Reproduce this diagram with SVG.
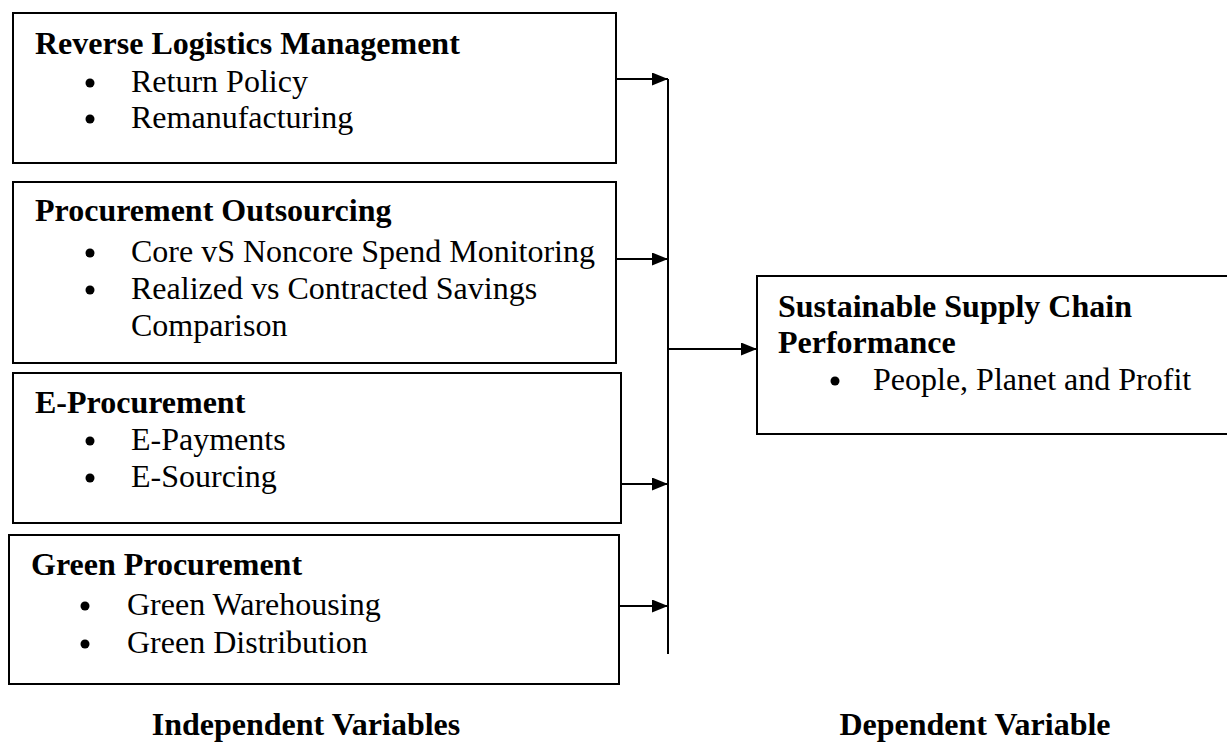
<svg xmlns="http://www.w3.org/2000/svg" width="1227" height="742" viewBox="0 0 1227 742">
<style>
.box{fill:#fff;stroke:#000;stroke-width:2}
.t{font-family:"Liberation Serif","Times New Roman",serif;font-size:32px;fill:#000}
.b{font-weight:bold}
.dot{fill:#000}
.ln{stroke:#000;stroke-width:2;fill:none}
</style>
<defs>
<marker id="ah" markerWidth="16" markerHeight="13" refX="16" refY="6.5" orient="auto" markerUnits="userSpaceOnUse">
<path d="M0,0 L16,6.5 L0,13 Z" fill="#000"/>
</marker>
</defs>
<rect width="1227" height="742" fill="#fff"/>
<g id="rlm">
<rect class="box" x="13" y="13" width="603" height="150"/>
<text class="t b" x="35" y="54">Reverse Logistics Management</text>
<circle class="dot" cx="90" cy="83" r="4.5"/>
<text class="t" x="131" y="92">Return Policy</text>
<circle class="dot" cx="90" cy="119" r="4.5"/>
<text class="t" x="131" y="128">Remanufacturing</text>
</g>
<g id="po">
<rect class="box" x="13" y="182" width="603" height="181"/>
<text class="t b" x="35" y="221">Procurement Outsourcing</text>
<circle class="dot" cx="90" cy="253" r="4.5"/>
<text class="t" x="131" y="262">Core vS Noncore Spend Monitoring</text>
<circle class="dot" cx="90" cy="290" r="4.5"/>
<text class="t" x="131" y="299">Realized vs Contracted Savings</text>
<text class="t" x="131" y="336">Comparison</text>
</g>
<g id="ep">
<rect class="box" x="13" y="373" width="608" height="150"/>
<text class="t b" x="35" y="413">E-Procurement</text>
<circle class="dot" cx="90" cy="441" r="4.5"/>
<text class="t" x="131" y="450">E-Payments</text>
<circle class="dot" cx="90" cy="478" r="4.5"/>
<text class="t" x="131" y="487">E-Sourcing</text>
</g>
<g id="gp">
<rect class="box" x="9" y="535" width="610" height="149"/>
<text class="t b" x="31" y="575">Green Procurement</text>
<circle class="dot" cx="85" cy="606" r="4.5"/>
<text class="t" x="127" y="615">Green Warehousing</text>
<circle class="dot" cx="85" cy="644" r="4.5"/>
<text class="t" x="127" y="653">Green Distribution</text>
</g>
<g id="sscp">
<rect class="box" x="757" y="276" width="475" height="158"/>
<text class="t b" x="778" y="317">Sustainable Supply Chain</text>
<text class="t b" x="778" y="353">Performance</text>
<circle class="dot" cx="835" cy="381" r="4.5"/>
<text class="t" x="873" y="390">People, Planet and Profit</text>
</g>
<g id="connectors">
<line class="ln" x1="668" y1="79" x2="668" y2="654" stroke-width="1.5"/>
<line class="ln" x1="616" y1="79" x2="668" y2="79" marker-end="url(#ah)"/>
<line class="ln" x1="616" y1="259" x2="668" y2="259" marker-end="url(#ah)"/>
<line class="ln" x1="621" y1="484" x2="668" y2="484" marker-end="url(#ah)"/>
<line class="ln" x1="619" y1="606" x2="668" y2="606" marker-end="url(#ah)"/>
<line class="ln" x1="668" y1="349" x2="757" y2="349" marker-end="url(#ah)"/>
</g>
<g id="labels">
<text class="t b" x="306" y="735" text-anchor="middle">Independent Variables</text>
<text class="t b" x="975" y="735" text-anchor="middle">Dependent Variable</text>
</g>
</svg>
